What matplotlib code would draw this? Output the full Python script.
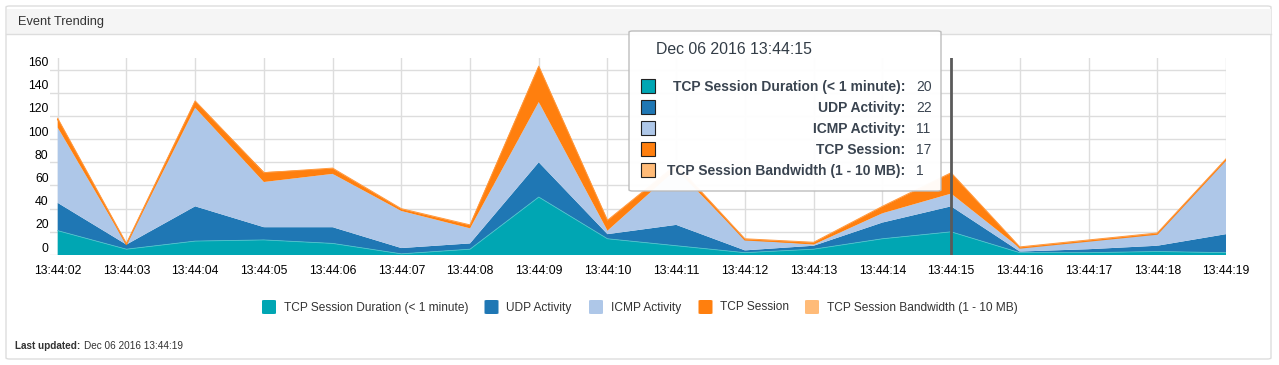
import numpy as np
import matplotlib
matplotlib.use('Agg')
from matplotlib import pyplot as plt
from matplotlib.patches import FancyBboxPatch, Rectangle
from matplotlib.transforms import ScaledTranslation

plt.rcParams['font.family'] = ['Liberation Sans', 'DejaVu Sans']

times = ['13:44:02', '13:44:03', '13:44:04', '13:44:05', '13:44:06', '13:44:07',
         '13:44:08', '13:44:09', '13:44:10', '13:44:11', '13:44:12', '13:44:13',
         '13:44:14', '13:44:15', '13:44:16', '13:44:17', '13:44:18', '13:44:19']
tcp_duration = [21, 5, 12, 13, 10, 1, 5, 50, 14, 8, 2, 5, 14, 20, 2, 2, 3, 2]
udp_activity = [24, 4, 30, 11, 14, 5, 5, 30, 4, 18, 2, 3, 14, 22, 1, 3, 5, 16]
icmp_activity = [65, 0, 85, 39, 46, 32, 13, 52, 3, 48, 9, 1, 8, 11, 3, 7, 10, 64]
tcp_session = [7, 0, 5, 8, 4, 1, 2, 30, 8, 3, 0, 1, 5, 17, 0, 0, 0, 0]
tcp_bandwidth = [1, 1, 1, 0, 1, 1, 1, 1, 1, 1, 1, 1, 1, 1, 1, 1, 1, 1]

names = ['TCP Session Duration (< 1 minute)', 'UDP Activity', 'ICMP Activity',
         'TCP Session', 'TCP Session Bandwidth (1 - 10 MB)']
colors = ['#00a6b3', '#1f77b4', '#aec7e8', '#ff7f0e', '#ffbb78']
series = [tcp_duration, udp_activity, icmp_activity, tcp_session, tcp_bandwidth]

hover = '13:44:15'
last_updated = 'Dec 06 2016 13:44:19'

W, H = 1279, 365
fig = plt.figure(figsize=(W / 100, H / 100), dpi=100)


def fx(px):
    return px / W


def fy(py):
    return 1 - py / H


# panel frame + header
fig.patches.append(FancyBboxPatch((fx(6), fy(359)), fx(1265), 353 / H,
                                  boxstyle='round,pad=0,rounding_size=0.003',
                                  transform=fig.transFigure, facecolor='white',
                                  edgecolor='#dddddd', lw=1, zorder=-2))
fig.patches.append(Rectangle((fx(6.5), fy(34)), fx(1264), 25.5 / H,
                             transform=fig.transFigure, facecolor='#f5f5f5',
                             edgecolor='none', zorder=-1))
fig.lines.append(plt.Line2D([fx(6), fx(1271)], [fy(34), fy(34)],
                            transform=fig.transFigure, color='#dddddd', lw=1))
fig.text(fx(18), fy(21.5), 'Event Trending', fontsize=9.2, color='#333333', va='center')

# chart area
x0, x1, ytop, ybot = 50, 1226, 58, 255
ax = fig.add_axes([fx(x0), fy(ybot), (x1 - x0) / W, (ybot - ytop) / H])
x = np.arange(len(times))
ax.set_xlim(-0.112, len(times) - 1)
ax.set_ylim(0, 170)

base = np.zeros(len(times))
for vals, c in zip(series, colors):
    top = base + np.array(vals)
    ax.fill_between(x, base, top, facecolor=c, edgecolor='none', zorder=2)
    base = top
# thin strokes along the stack edges
cum = np.cumsum(np.array(series), axis=0)
ax.plot(x, cum[3], color='#ff7f0e', lw=0.9, zorder=3)
ax.plot(x, cum[4], color='#ff9a40', lw=0.7, zorder=3)
ax.plot(x, cum[0], color='#4cc3cc', lw=0.6, zorder=3)

ax.set_yticks(np.arange(0, 161, 20))
ax.set_xticks(x)
ax.set_xticklabels(times)
ax.grid(True, color='#dddddd', lw=1, zorder=2.5)
for s in ax.spines.values():
    s.set_visible(False)
ax.tick_params(length=0, labelsize=8.8, colors='#000000')
ax.tick_params(axis='x', pad=7)
ax.tick_params(axis='y', pad=1)
# y labels sit a bit above their grid lines
off = ScaledTranslation(0, 0.08, fig.dpi_scale_trans)
for lab in ax.get_yticklabels():
    lab.set_transform(lab.get_transform() + off)

ax.axvline(times.index(hover), color='#5a5a5a', lw=2, zorder=4)

# tooltip
fig.patches.append(FancyBboxPatch((fx(629), fy(191)), fx(312), 160 / H,
                                  boxstyle='round,pad=0,rounding_size=0.003',
                                  transform=fig.transFigure, facecolor='white',
                                  edgecolor='#bbbbbb', lw=1, zorder=5, alpha=0.97))
fig.text(fx(656), fy(49), 'Dec 06 2016 ' + hover, fontsize=11.4, color='#333d47',
         va='center', zorder=6)
hi = times.index(hover)
for i, (n, c, vals) in enumerate(zip(names, colors, series)):
    yc = 86 + i * 20.9
    fig.patches.append(Rectangle((fx(641), fy(yc + 7)), fx(14), 14 / H,
                                 transform=fig.transFigure, facecolor=c,
                                 edgecolor='#222222', lw=0.8, zorder=6))
    fig.text(fx(905.5), fy(yc + 1), n + ':', fontsize=10, fontweight='bold',
             color='#3a4450', ha='right', va='center', zorder=6)
    fig.text(fx(916), fy(yc + 1), str(vals[hi]), fontsize=10, color='#3a4450',
             ha='left', va='center', zorder=6)

# legend
leg_x = [262, 484.5, 589, 698.5, 805]
for lx, n, c in zip(leg_x, names, colors):
    fig.patches.append(FancyBboxPatch((fx(lx), fy(314)), fx(14), 14 / H,
                                      boxstyle='round,pad=0,rounding_size=0.002',
                                      transform=fig.transFigure, facecolor=c,
                                      edgecolor='none', zorder=3))
    fig.text(fx(lx + 22), fy(307.5), n, fontsize=8.6, color='#333333', va='center')

# footer
t = fig.text(fx(15), fy(346), 'Last updated:', fontsize=7.2, fontweight='bold',
             color='#333333', va='center')
plt.annotate(last_updated, xy=(1, 0.5), xycoords=t, xytext=(2.5, 0),
             textcoords='offset points', fontsize=7.2, color='#333333',
             va='center', ha='left', annotation_clip=False)

fig.savefig('out.png', dpi=100)
